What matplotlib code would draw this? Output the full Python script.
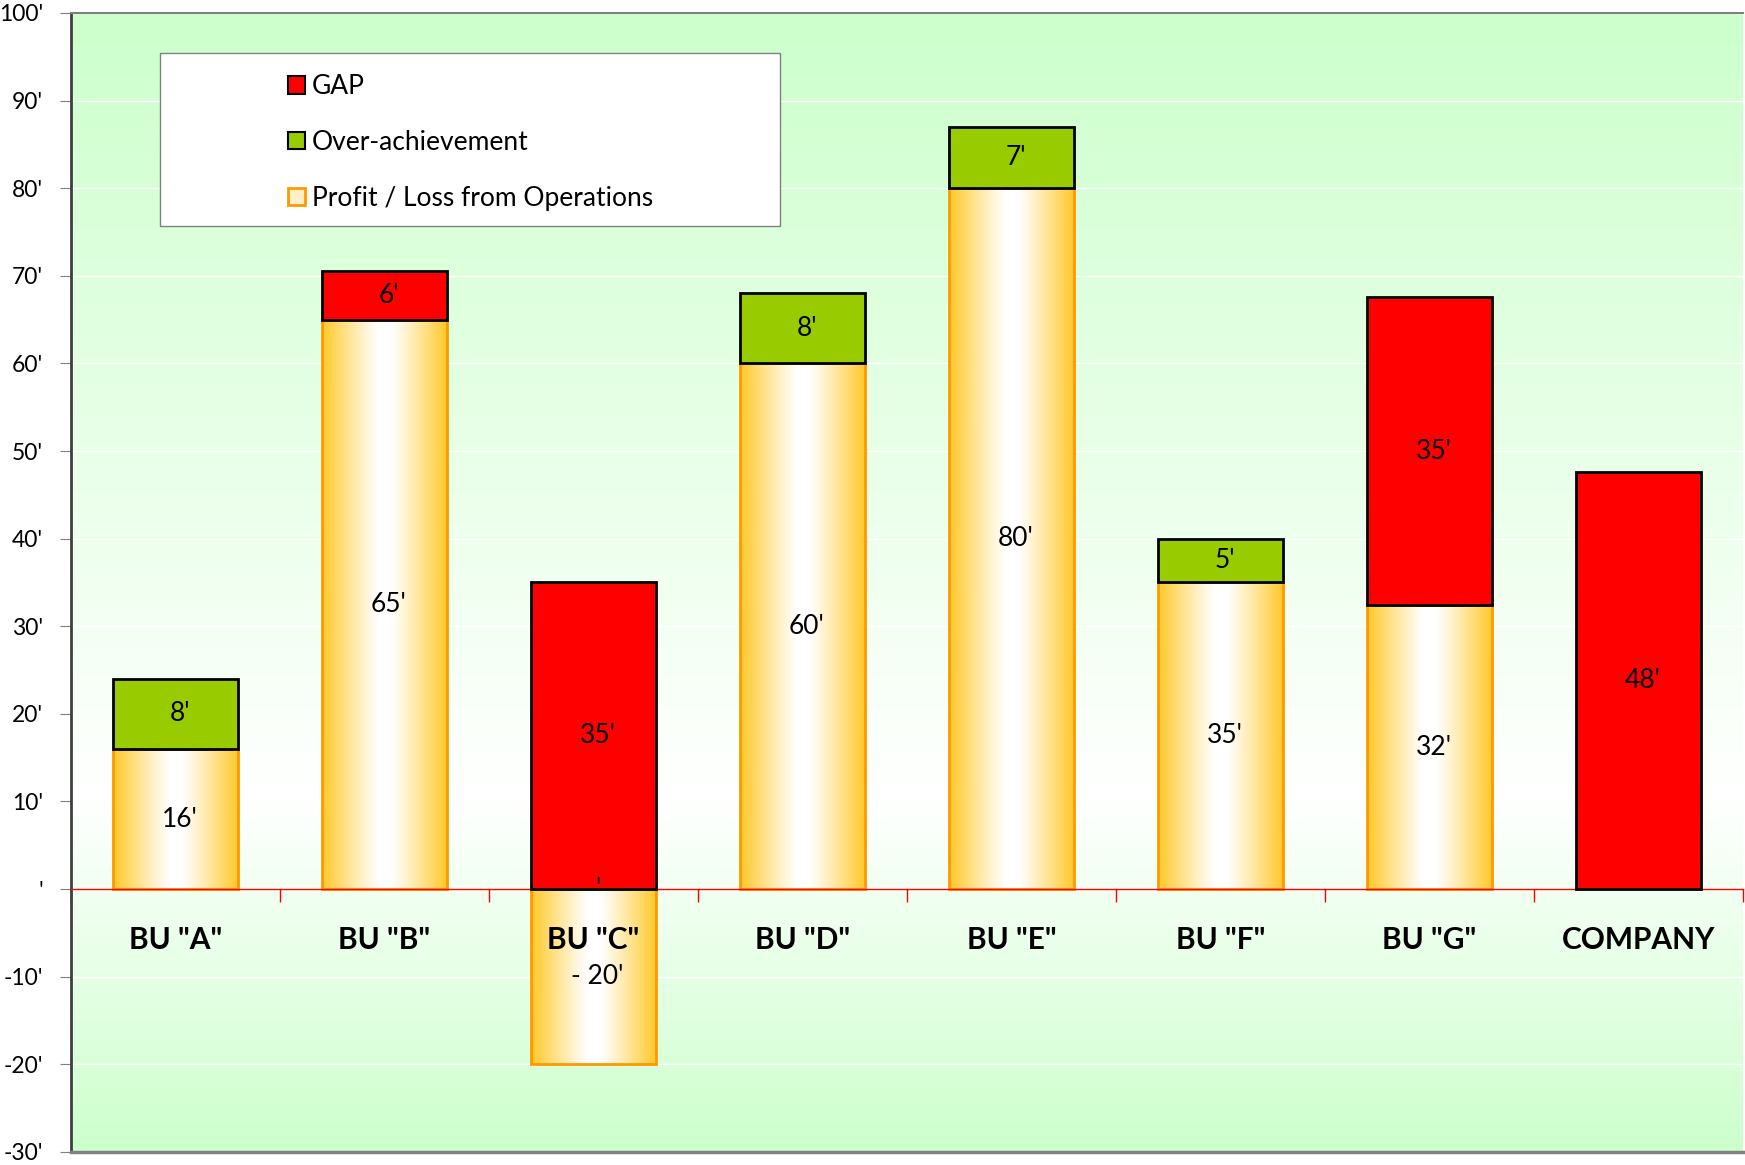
import numpy as np
import matplotlib.pyplot as plt
from matplotlib.patches import Patch, Rectangle

plt.rcParams['font.family'] = ['Lato', 'DejaVu Sans']

# data (values in thousands, shown with ' suffix)
categories = ['BU "A"', 'BU "B"', 'BU "C"', 'BU "D"', 'BU "E"', 'BU "F"', 'BU "G"', 'COMPANY']
profit = [16, 65, -20, 60, 80, 35, 32.4, None]
over = [8, None, 0, 8, 7, 5, None, None]
gap = [None, 5.6, 35, None, None, None, 35.2, 47.6]
yticks = list(range(-30, 101, 10))

x = np.arange(len(categories))
p = np.array([v if v is not None else 0 for v in profit], float)
o = np.array([v if v is not None else 0 for v in over], float)
g = np.array([v if v is not None else 0 for v in gap], float)
base = np.maximum(p, 0)

fig = plt.figure(figsize=(17.45, 11.65), dpi=100)
ax = fig.add_axes([0.0407, 0.0112, 0.958, 0.9777])

# plot area background: green -> white -> green
yy = np.linspace(100, -30, 400)
wt = np.interp(yy, [-30, 10, 100], [0, 1, 0])
green = np.array([204, 255, 204]) / 255
bg = green[None, :] * (1 - wt[:, None]) + wt[:, None]
ax.imshow(bg[:, None, :], extent=(-0.5, 7.5, -30, 100), aspect='auto', zorder=0)

for v in yticks:
    ax.axhline(v, color='white', lw=1, zorder=0.5)

# horizontal gold-white-gold gradient for the profit bars
t = np.linspace(0, 1, 200)
d = np.abs(t - 0.5) * 2
wg = np.clip((d - 0.1) / 0.9, 0, 1) ** 1.1
gold = np.array([255, 200, 40]) / 255
grad = (1 - wg[:, None]) + gold[None, :] * wg[:, None]
grad = grad[None, :, :]

width = 0.6
has_p = np.array([v is not None for v in profit])
bars = ax.bar(x[has_p], p[has_p], width=width, facecolor='none',
              edgecolor='#ff9900', linewidth=2, zorder=2)
for b in bars:
    x0, w_ = b.get_x(), b.get_width()
    y0, y1 = sorted([b.get_y(), b.get_y() + b.get_height()])
    im = ax.imshow(grad, extent=(x0, x0 + w_, y0, y1), aspect='auto', zorder=1.5)
    im.set_clip_path(b)

has_o = np.array([v is not None and v > 0 for v in over])
ax.bar(x[has_o], o[has_o], bottom=base[has_o], width=width, color='#99cc00',
       edgecolor='black', linewidth=2, zorder=3)

has_g = np.array([v is not None for v in gap])
ax.bar(x[has_g], g[has_g], bottom=(base + o)[has_g], width=width, color='#ff0000',
       edgecolor='black', linewidth=2, zorder=3)


def lab(v):
    if v == 0:
        return "'"
    if v < 0:
        return "- %d'" % round(-v)
    return "%d'" % round(v)


for i in range(len(categories)):
    xi = x[i] + 0.02
    if profit[i] is not None:
        ax.text(xi, p[i] / 2, lab(p[i]), ha='center', va='center', fontsize=19, zorder=6)
    if over[i] is not None:
        ax.text(xi, base[i] + o[i] / 2, lab(o[i]), ha='center', va='center', fontsize=19, zorder=6)
    if gap[i] is not None:
        ax.text(xi, base[i] + o[i] + g[i] / 2, lab(g[i]), ha='center', va='center', fontsize=19, zorder=6)
    ax.text(x[i], -5.8, categories[i], ha='center', va='center', fontsize=21.5,
            fontweight='bold', zorder=6)

ax.set_xlim(-0.5, 7.5)
ax.set_ylim(-30, 100)

ax.set_yticks(yticks)
ax.set_yticklabels([("%d'" % v) if v else "'" for v in yticks])
ax.tick_params(axis='y', direction='out', length=8, color='#808080', pad=12, labelsize=16.5)
ax.set_xticks(np.arange(-0.5, 8, 1))
ax.set_xticklabels([])
ax.tick_params(axis='x', direction='out', length=9, color='red', width=1)

ax.spines['bottom'].set_position(('data', 0))
ax.spines['bottom'].set_color('red')
ax.spines['bottom'].set_linewidth(1)
ax.spines['right'].set_visible(False)
ax.spines['top'].set_color('#808080')
ax.spines['top'].set_linewidth(1.5)
ax.spines['left'].set_color('#404040')
ax.spines['left'].set_linewidth(2)
ax.axhline(-30, color='#808080', lw=2.5, zorder=3, clip_on=False)

# legend box
ax.add_patch(Rectangle((0.053, 0.813), 0.371, 0.152, transform=ax.transAxes,
                       facecolor='white', edgecolor='#808080', lw=1, zorder=4))
handles = [Patch(facecolor='#ff0000', edgecolor='black', lw=1.5),
           Patch(facecolor='#99cc00', edgecolor='black', lw=1.5),
           Patch(facecolor='#fff0c8', edgecolor='#ff9900', lw=2)]
labels = ['GAP', 'Over-achievement', 'Profit / Loss from Operations']
leg = ax.legend(handles, labels, loc='upper left', bbox_to_anchor=(0.122, 0.958),
                frameon=False, fontsize=19, handlelength=0.65, handleheight=0.65,
                handletextpad=0.25, labelspacing=1.17, borderpad=0)
leg.set_zorder(5)

plt.savefig('out.png', dpi=100)
